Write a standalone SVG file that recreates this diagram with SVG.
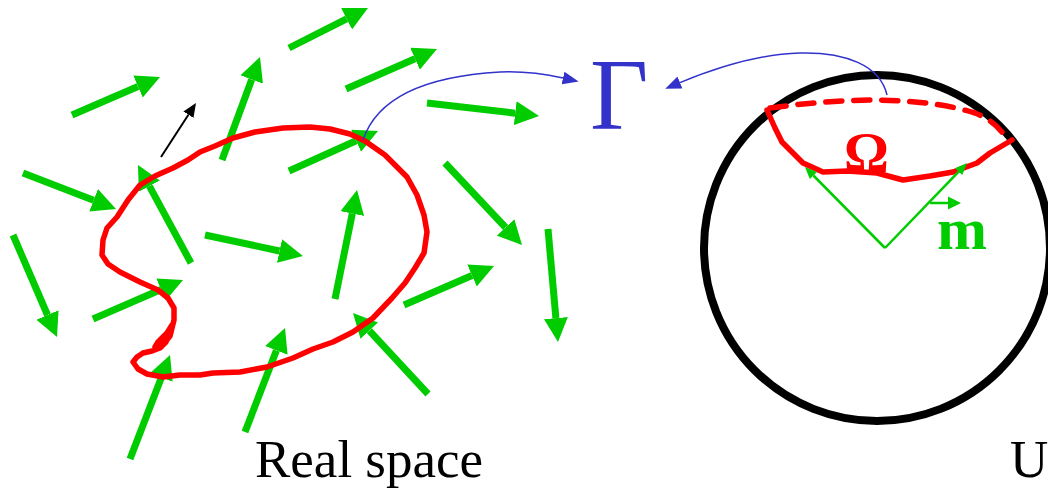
<svg xmlns="http://www.w3.org/2000/svg" width="1048" height="491" viewBox="0 0 1048 491">
  <defs>
    <marker id="gh" markerUnits="userSpaceOnUse" markerWidth="24" markerHeight="24" viewBox="0 -12 24 24" refX="0" refY="0" orient="auto">
      <path d="M0,-12 L24,0 L0,12 Z" fill="#00CC00"/>
    </marker>
    <marker id="gs" markerUnits="userSpaceOnUse" markerWidth="13" markerHeight="12" viewBox="0 -6 12 12" refX="0" refY="0" orient="auto">
      <path d="M0,-5 L12,0 L0,5 Z" fill="#00CC00"/>
    </marker>
    <marker id="gm" markerUnits="userSpaceOnUse" markerWidth="14" markerHeight="14" viewBox="0 -7 14 14" refX="0" refY="0" orient="auto">
      <path d="M0,-6.5 L13,0 L0,6.5 Z" fill="#00CC00"/>
    </marker>
    <marker id="bh" markerUnits="userSpaceOnUse" markerWidth="16" markerHeight="14" viewBox="0 -7 16 14" refX="0" refY="0" orient="auto">
      <path d="M0,-6.5 L16,0 L0,6.5 Z" fill="#3333CC"/>
    </marker>
    <marker id="kh" markerUnits="userSpaceOnUse" markerWidth="14" markerHeight="14" viewBox="0 -7 14 14" refX="0" refY="0" orient="auto">
      <path d="M0,-6 L14,0 L0,6 Z" fill="#000000"/>
    </marker>
  </defs>
  <style>
    .ga { stroke: #00CC00; stroke-width: 7; fill: none; marker-end: url(#gh); }
    .gt { stroke: #00CC00; stroke-width: 2.5; fill: none; }
    .red { stroke: #FF0000; stroke-width: 5.5; fill: none; stroke-linejoin: round; stroke-linecap: round; }
    .blue { stroke: #3333CC; stroke-width: 1.5; fill: none; marker-end: url(#bh); }
    .serif { font-family: "Liberation Serif", "Times New Roman", serif; }
  </style>

  <g id="spin-field">
    <line class="ga" x1="72" y1="115" x2="138.0" y2="86.5"/>
    <line class="ga" x1="289" y1="48" x2="346.6" y2="18.8"/>
    <line class="ga" x1="222" y1="160" x2="251.7" y2="79.5"/>
    <line class="ga" x1="346" y1="89" x2="415.0" y2="58.7"/>
    <line class="ga" x1="427" y1="103" x2="515.2" y2="113.2"/>
    <line class="ga" x1="289" y1="171" x2="356.1" y2="140.8"/>
    <line class="ga" x1="23" y1="173" x2="93.6" y2="200.3"/>
    <line class="ga" x1="191" y1="263" x2="149.4" y2="186.1"/>
    <line class="ga" x1="205" y1="235" x2="279.5" y2="251.0"/>
    <line class="ga" x1="335" y1="299" x2="352.3" y2="213.5"/>
    <line class="ga" x1="445" y1="163" x2="505.6" y2="227.5"/>
    <line class="ga" x1="548" y1="229" x2="555.9" y2="318.1"/>
    <line class="ga" x1="404" y1="305" x2="472.0" y2="275.5"/>
    <line class="ga" x1="13" y1="235" x2="47.5" y2="315.0"/>
    <line class="ga" x1="93" y1="319" x2="161.0" y2="289.5"/>
    <line class="ga" x1="130" y1="459" x2="161.4" y2="377.4"/>
    <line class="ga" x1="245" y1="432" x2="276.4" y2="350.4"/>
    <line class="ga" x1="428" y1="394" x2="369.3" y2="330.6"/>
  </g>

  <g id="contour-gamma">
    <path class="red" d="M310,127 L330,129 L350,134 L365,141 L385,155 L407,177 L417,195 L424,215 L427,232 L424,253 L415,268 L405,283 L392,298 L373,318 L353,332 L333,342 L313,349 L293,358 L267,367 L240,372 L213,373 L200,375 L180,375 L163,377 L147,374 L138,369 L133,362 L137,357 L143,353 L152,351 L160,348 L166,342 L170,332 L172,325 L167,333 L158,342 L155,347 L162,346 L170,336 L174,320 L174,308 L168,298 L158,290 L140,282 L120,272 L108,264 L102,255 L103,240 L107,228 L117,217 L128,200 L140,185 L155,176 L173,168 L188,160 L200,152 L215,146 L233,138 L255,132 L283,128 Z"/>
  </g>

  <g id="sphere-u">
    <circle cx="877" cy="248" r="173" fill="none" stroke="#000000" stroke-width="8"/>
    <path class="red" stroke-dasharray="16 12" stroke-linecap="butt" d="M770,108 Q900,90 975,113 Q997,122 1005,137"/>
    <path class="red" d="M767,110 L775,128 L782,142 L790,150 L803,163 L823,172 L847,171 L877,173 L903,180 L930,176 L953,172 L977,163 L990,153 L1012,140"/>
    <line class="gt" x1="885" y1="248" x2="813.4" y2="175.5" marker-end="url(#gs)"/>
    <line class="gt" x1="885" y1="248" x2="958.7" y2="171.6" marker-end="url(#gs)"/>
    <line class="gt" x1="930" y1="203" x2="948" y2="203" marker-end="url(#gm)"/>
  </g>

  <g id="connectors">
    <path class="blue" d="M363,140 C378,95 430,76 500,72 C525,71 545,74 563,78"/>
    <path class="blue" d="M887,95 C880,65 845,52 800,53 C760,54 720,66 680,82.6"/>
    <line x1="161" y1="157" x2="188.4" y2="114.7" stroke="#000000" stroke-width="2" marker-end="url(#kh)"/>
  </g>

  <g id="labels">
    <text class="serif" x="590" y="129" font-size="101" fill="#3333CC">Γ</text>
    <text class="serif" x="844" y="172" font-size="56" font-weight="bold" fill="#FF0000">Ω</text>
    <text class="serif" x="937" y="249" font-size="60" font-weight="bold" fill="#00CC00">m</text>
    <text class="serif" x="255" y="477" font-size="53" fill="#000000">Real space</text>
    <text class="serif" x="1010" y="477" font-size="53" fill="#000000">U</text>
  </g>
</svg>
